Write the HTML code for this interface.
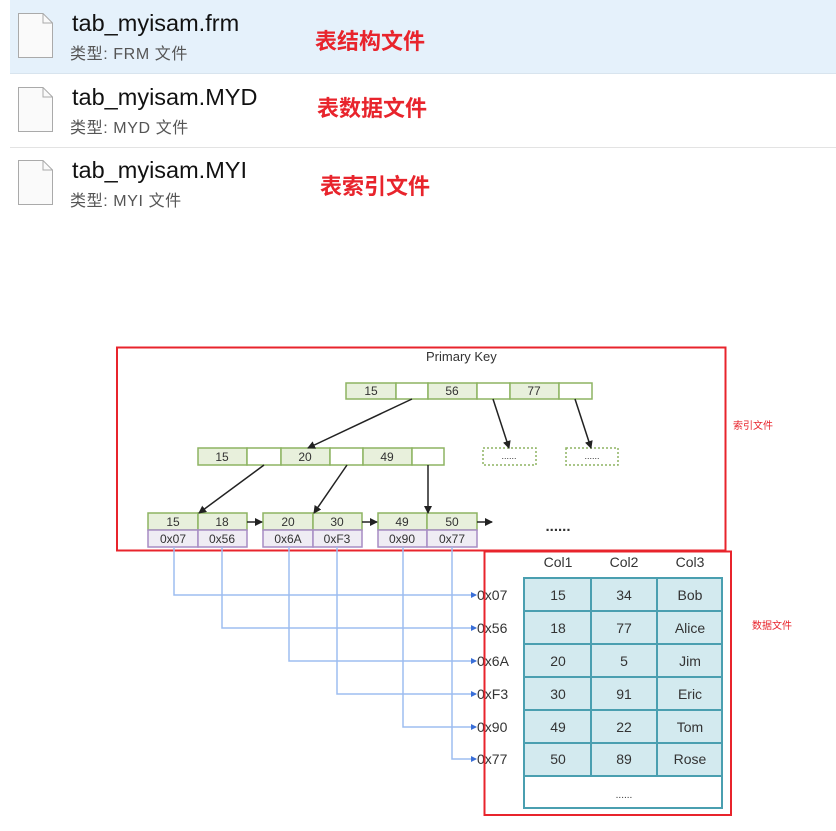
<!DOCTYPE html>
<html><head><meta charset="utf-8"><style>
html,body{margin:0;padding:0;background:#fff;width:836px;height:831px;overflow:hidden}
svg{display:block}
.t{font-family:"Liberation Sans","Noto Sans CJK SC",sans-serif}
</style></head><body>
<svg width="836" height="831" viewBox="0 0 836 831" xmlns="http://www.w3.org/2000/svg" class="t">
<defs>
<marker id="ah" markerWidth="8" markerHeight="8" refX="7" refY="4" orient="auto" markerUnits="userSpaceOnUse"><path d="M0,0 L8,4 L0,8 z" fill="#222"/></marker>
<marker id="bh" markerWidth="6" markerHeight="6" refX="5" refY="3" orient="auto" markerUnits="userSpaceOnUse"><path d="M0,0 L6,3 L0,6 z" fill="#3a6fd8"/></marker>
<g id="icon"><path d="M0.5,0.5 H25 L34.5,10 V44.5 H0.5 Z" fill="#fafafa" stroke="#aaa"/><path d="M25,0.5 V10 H34.5" fill="none" stroke="#aaa"/></g>
</defs>
<rect x="10" y="0" width="826" height="73" fill="#e5f1fb"/>
<line x1="10" y1="73.5" x2="836" y2="73.5" stroke="#d8e4ee"/>
<line x1="10" y1="147.5" x2="836" y2="147.5" stroke="#e3e3e3"/>
<use href="#icon" x="18" y="13"/>
<use href="#icon" x="18" y="87"/>
<use href="#icon" x="18" y="160"/>
<g font-size="23.5" fill="#111">
<text x="72" y="31">tab_myisam.frm</text>
<text x="72" y="105">tab_myisam.MYD</text>
<text x="72" y="178">tab_myisam.MYI</text>
</g>
<g font-size="16" fill="#555" letter-spacing="0.6">
<text x="70" y="59">类型: FRM 文件</text>
<text x="70" y="133">类型: MYD 文件</text>
<text x="70" y="206">类型: MYI 文件</text>
</g>
<g font-size="22" font-weight="bold" fill="#e8242c">
<text x="315" y="49">表结构文件</text>
<text x="317" y="116">表数据文件</text>
<text x="320" y="194">表索引文件</text>
</g>
<rect x="117" y="347.5" width="608.5" height="203" fill="none" stroke="#e8242c" stroke-width="2"/>
<text x="426" y="361" font-size="13" fill="#333">Primary Key</text>
<text x="733" y="429" font-size="10" fill="#e8242c">索引文件</text>
<text x="752" y="629" font-size="10" fill="#e8242c">数据文件</text>
<g stroke="#8db462" stroke-width="1.5" font-size="12" fill="#333">
<rect x="346" y="383" width="50" height="16" fill="#e8f0dc"/><rect x="396" y="383" width="32" height="16" fill="#fff"/>
<rect x="428" y="383" width="49" height="16" fill="#e8f0dc"/><rect x="477" y="383" width="33" height="16" fill="#fff"/>
<rect x="510" y="383" width="49" height="16" fill="#e8f0dc"/><rect x="559" y="383" width="33" height="16" fill="#fff"/>
<rect x="198" y="448" width="49" height="17" fill="#e8f0dc"/><rect x="247" y="448" width="34" height="17" fill="#fff"/>
<rect x="281" y="448" width="49" height="17" fill="#e8f0dc"/><rect x="330" y="448" width="33" height="17" fill="#fff"/>
<rect x="363" y="448" width="49" height="17" fill="#e8f0dc"/><rect x="412" y="448" width="32" height="17" fill="#fff"/>
<rect x="483" y="448" width="53" height="17" fill="none" stroke-dasharray="2,2"/>
<rect x="566" y="448" width="52" height="17" fill="none" stroke-dasharray="2,2"/>
<rect x="148" y="513" width="50" height="17" fill="#e8f0dc"/><rect x="198" y="513" width="49" height="17" fill="#e8f0dc"/>
<rect x="263" y="513" width="50" height="17" fill="#e8f0dc"/><rect x="313" y="513" width="49" height="17" fill="#e8f0dc"/>
<rect x="378" y="513" width="49" height="17" fill="#e8f0dc"/><rect x="427" y="513" width="50" height="17" fill="#e8f0dc"/>
</g>
<g stroke="#a78cc4" stroke-width="1.5">
<rect x="148" y="530" width="50" height="17" fill="#efecf4"/><rect x="198" y="530" width="49" height="17" fill="#efecf4"/>
<rect x="263" y="530" width="50" height="17" fill="#efecf4"/><rect x="313" y="530" width="49" height="17" fill="#efecf4"/>
<rect x="378" y="530" width="49" height="17" fill="#efecf4"/><rect x="427" y="530" width="50" height="17" fill="#efecf4"/>
</g>
<g font-size="12" fill="#333" text-anchor="middle">
<text x="371" y="395">15</text><text x="452" y="395">56</text><text x="534" y="395">77</text>
<text x="222" y="461">15</text><text x="305" y="461">20</text><text x="387" y="461">49</text>
<text x="509" y="459" font-size="9">......</text><text x="592" y="459" font-size="9">......</text>
<text x="173" y="526">15</text><text x="222" y="526">18</text><text x="288" y="526">20</text><text x="337" y="526">30</text><text x="402" y="526">49</text><text x="452" y="526">50</text>
<text x="173" y="543">0x07</text><text x="222" y="543">0x56</text><text x="288" y="543">0x6A</text><text x="337" y="543">0xF3</text><text x="402" y="543">0x90</text><text x="452" y="543">0x77</text>
<text x="558" y="531" font-size="15" font-weight="bold">......</text>
</g>
<g stroke="#222" stroke-width="1.5" marker-end="url(#ah)">
<line x1="412" y1="399" x2="308" y2="448"/>
<line x1="493" y1="399" x2="509" y2="448"/>
<line x1="575" y1="399" x2="591" y2="448"/>
<line x1="264" y1="465" x2="199" y2="513"/>
<line x1="347" y1="465" x2="314" y2="513"/>
<line x1="428" y1="465" x2="428" y2="513"/>
<line x1="247" y1="522" x2="262" y2="522"/>
<line x1="362" y1="522" x2="377" y2="522"/>
<line x1="477" y1="522" x2="492" y2="522"/>
</g>
<g stroke="#9dbdf0" stroke-width="1.5" fill="none" marker-end="url(#bh)">
<polyline points="174,547 174,595 476,595"/>
<polyline points="222,547 222,628 476,628"/>
<polyline points="289,547 289,661 476,661"/>
<polyline points="337,547 337,694 476,694"/>
<polyline points="403,547 403,727 476,727"/>
<polyline points="452,547 452,759 476,759"/>
</g>
<g font-size="14" fill="#333">
<text x="477" y="600">0x07</text><text x="477" y="633">0x56</text><text x="477" y="666">0x6A</text>
<text x="477" y="699">0xF3</text><text x="477" y="732">0x90</text><text x="477" y="764">0x77</text>
</g>
<g font-size="14" fill="#333" text-anchor="middle">
<text x="558" y="567">Col1</text><text x="624" y="567">Col2</text><text x="690" y="567">Col3</text>
</g>
<rect x="524" y="578" width="198" height="198" fill="#d3eaef" stroke="#4a9fb0" stroke-width="2"/>
<rect x="524" y="776" width="198" height="32" fill="#fff" stroke="#4a9fb0" stroke-width="2"/>
<g stroke="#4a9fb0" stroke-width="2">
<line x1="591" y1="578" x2="591" y2="776"/><line x1="657" y1="578" x2="657" y2="776"/>
<line x1="524" y1="611" x2="722" y2="611"/><line x1="524" y1="644" x2="722" y2="644"/>
<line x1="524" y1="677" x2="722" y2="677"/><line x1="524" y1="710" x2="722" y2="710"/>
<line x1="524" y1="743" x2="722" y2="743"/>
</g>
<g font-size="14" fill="#333" text-anchor="middle">
<text x="558" y="600">15</text><text x="624" y="600">34</text><text x="690" y="600">Bob</text>
<text x="558" y="633">18</text><text x="624" y="633">77</text><text x="690" y="633">Alice</text>
<text x="558" y="666">20</text><text x="624" y="666">5</text><text x="690" y="666">Jim</text>
<text x="558" y="699">30</text><text x="624" y="699">91</text><text x="690" y="699">Eric</text>
<text x="558" y="732">49</text><text x="624" y="732">22</text><text x="690" y="732">Tom</text>
<text x="558" y="764">50</text><text x="624" y="764">89</text><text x="690" y="764">Rose</text>
<text x="624" y="798" font-size="10">......</text>
</g>
<rect x="484.5" y="551.5" width="246.5" height="263.5" fill="none" stroke="#e8242c" stroke-width="2"/>
</svg>
</body></html>
